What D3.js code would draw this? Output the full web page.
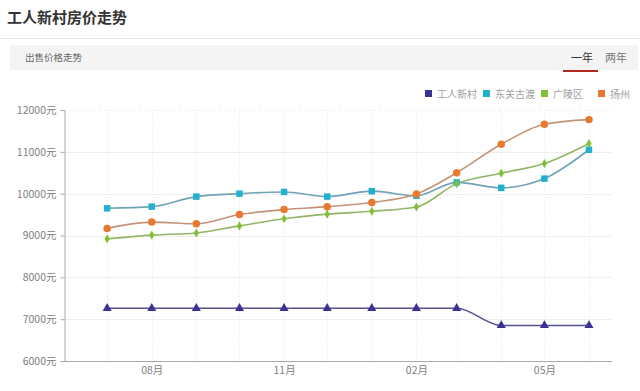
<!DOCTYPE html>
<html>
<head>
<meta charset="utf-8">
<script src="https://cdn.jsdelivr.net/npm/d3@7/dist/d3.min.js"></script>
<style>
  body { margin: 0; background: #fff; }
  text { font-family: "Noto Sans CJK SC", "Noto Sans", sans-serif; }
</style>
</head>
<body>
<svg id="chart" width="640" height="391"></svg>
<script>
// month of each point (first of month)
const months = ["2017-07", "2017-08", "2017-09", "2017-10", "2017-11", "2017-12",
  "2018-01", "2018-02", "2018-03", "2018-04", "2018-05", "2018-06"];
const seriesNames = ["工人新村", "东关古渡", "广陵区", "扬州"];
const gongren = [7260, 7260, 7260, 7260, 7260, 7260, 7260, 7260, 7260, 6850, 6850, 6850];
const dongguan = [9650, 9690, 9930, 10000, 10040, 9930, 10060, 9950, 10270, 10140, 10360, 11050];
const guangling = [8920, 9010, 9060, 9230, 9400, 9510, 9580, 9680, 10240, 10490, 10720, 11200];
const yangzhou = [9170, 9320, 9280, 9500, 9620, 9690, 9790, 9990, 10500, 11180, 11660, 11770];
const yTicks = [6000, 7000, 8000, 9000, 10000, 11000, 12000];
const xTickMonths = ["2017-08", "2017-11", "2018-02", "2018-05"];

const lineColors = ["#56508e", "#72a2b6", "#93b566", "#c49378"];
const markColors = ["#3b3393", "#22b0cf", "#80c134", "#e8792f"];
const markShapes = [d3.symbolTriangle, d3.symbolSquare, d3.symbolDiamond, d3.symbolCircle];

const parse = d3.timeParse("%Y-%m");
const dates = months.map(parse);
const svg = d3.select("#chart");

// header
svg.append("text").attr("x", 7).attr("y", 23)
  .attr("font-size", 15).attr("font-weight", "bold").attr("fill", "#333")
  .text("工人新村房价走势");
svg.append("line").attr("x1", 0).attr("x2", 640).attr("y1", 38.5).attr("y2", 38.5)
  .attr("stroke", "#e6e6e6");
svg.append("rect").attr("x", 10).attr("y", 45).attr("width", 628).attr("height", 25)
  .attr("fill", "#f4f4f4");
svg.append("text").attr("x", 25).attr("y", 61).attr("font-size", 9.5).attr("fill", "#666")
  .text("出售价格走势");
svg.append("text").attr("x", 571).attr("y", 62).attr("font-size", 11).attr("fill", "#333").text("一年");
svg.append("text").attr("x", 605).attr("y", 62).attr("font-size", 11).attr("fill", "#777").text("两年");
svg.append("line").attr("x1", 563).attr("x2", 598).attr("y1", 71).attr("y2", 71)
  .attr("stroke", "#b0281e").attr("stroke-width", 2);

// scales
const x = d3.scaleTime()
  .domain([parse("2017-06"), new Date(2018, 5, 17)])
  .range([64, 612]);
const y = d3.scaleLinear().domain([6000, 12000]).range([361, 110]);

// horizontal grid
svg.append("g").selectAll("line").data(yTicks.slice(1)).join("line")
  .attr("x1", 64).attr("x2", 612)
  .attr("y1", d => Math.round(y(d)) + 0.5).attr("y2", d => Math.round(y(d)) + 0.5)
  .attr("stroke", "#efefef")
  .attr("stroke-dasharray", d => d === 12000 ? "2,3" : null);

// vertical grid at each month
svg.append("g").selectAll("line").data(dates).join("line")
  .attr("x1", d => Math.round(x(d)) + 0.5).attr("x2", d => Math.round(x(d)) + 0.5)
  .attr("y1", 110).attr("y2", 365)
  .attr("stroke", "#e8e8e8").attr("stroke-dasharray", "1,2");

// y axis
const yAxis = svg.append("g").attr("transform", "translate(64.5,0)")
  .call(d3.axisLeft(y).tickValues(yTicks).tickSize(4).tickFormat(d => d + "元"));
yAxis.select(".domain").attr("stroke", "#aaa");
yAxis.selectAll(".tick line").attr("stroke", "#aaa");
yAxis.selectAll("text").attr("fill", "#808080").attr("font-size", 10.5)
  .attr("font-family", "\"Noto Sans CJK SC\", sans-serif").attr("dx", "-1");

// x axis
const xAxis = svg.append("g").attr("transform", "translate(0,361.5)")
  .call(d3.axisBottom(x).tickValues(xTickMonths.map(parse)).tickSize(0)
    .tickFormat(d3.timeFormat("%m月")));
xAxis.select(".domain").attr("stroke", "#aaa").attr("d", "M64,0H612");
xAxis.selectAll("text").attr("fill", "#808080").attr("font-size", 10.5)
  .attr("font-family", "\"Noto Sans CJK SC\", sans-serif").attr("dy", "0.9em");

// lines and markers
const allSeries = [gongren, dongguan, guangling, yangzhou];
const line = d3.line()
  .x((d, i) => x(dates[i]))
  .y(d => y(d))
  .curve(d3.curveMonotoneX);

allSeries.forEach((vals, s) => {
  svg.append("path").datum(vals)
    .attr("d", line).attr("fill", "none")
    .attr("stroke", lineColors[s]).attr("stroke-width", 1.6);
});
allSeries.forEach((vals, s) => {
  const size = [36, 42, 24, 44][s];
  svg.append("g").selectAll("path").data(vals).join("path")
    .attr("transform", (d, i) => `translate(${x(dates[i])},${y(d)})`)
    .attr("d", d3.symbol().type(markShapes[s]).size(size))
    .attr("fill", markColors[s]);
});

// legend
const legendX = [425, 483, 541, 598];
const legend = svg.append("g").selectAll("g").data(seriesNames).join("g")
  .attr("transform", (d, i) => `translate(${legendX[i]},94)`);
legend.append("rect").attr("x", 0).attr("y", -4).attr("width", 7).attr("height", 7)
  .attr("fill", (d, i) => markColors[i]);
legend.append("text").attr("x", 12).attr("y", 3.5).attr("font-size", 10)
  .attr("fill", "#a0a0a0").text(d => d);
</script>
</body>
</html>
